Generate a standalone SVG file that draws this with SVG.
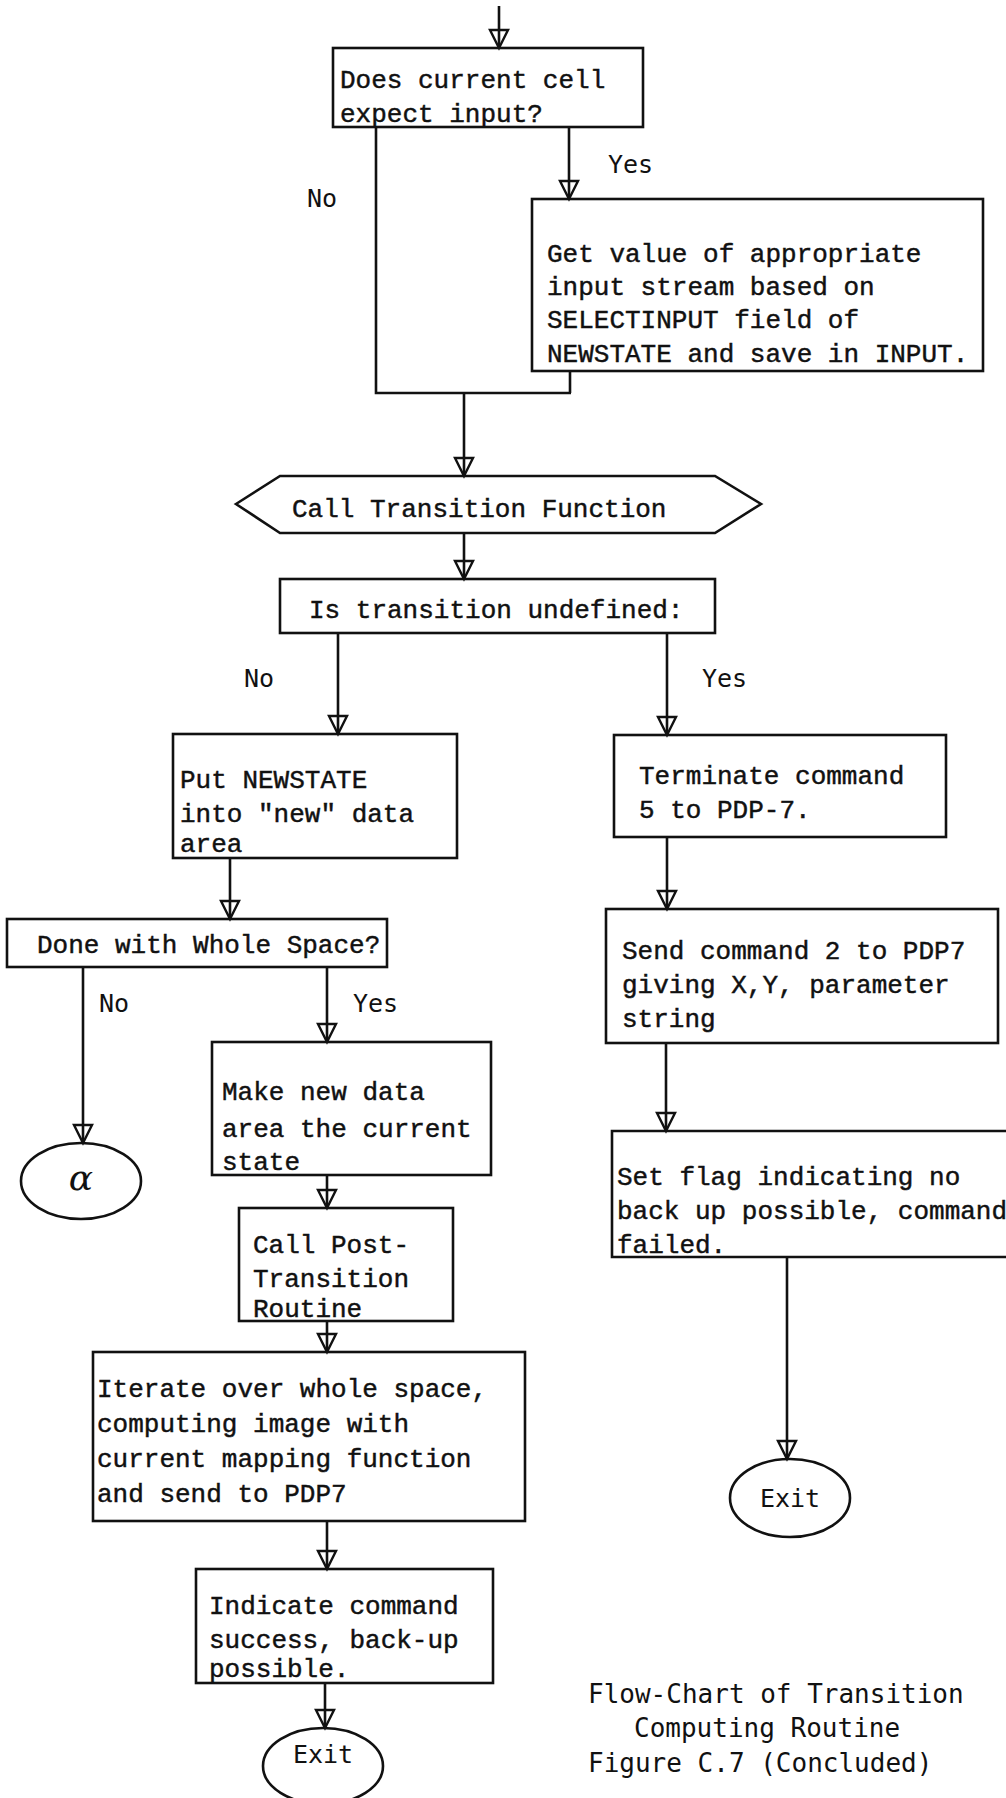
<svg xmlns="http://www.w3.org/2000/svg" width="1006" height="1798" viewBox="0 0 1006 1798">
  <style>
    .bg { fill: #ffffff; }
    .box { fill: none; stroke: #111; stroke-width: 2.6; }
    .wire { fill: none; stroke: #111; stroke-width: 2.6; }
    .t { font-family: "Liberation Mono", "DejaVu Sans Mono", monospace; font-size: 26px; fill: #111; stroke: #111; stroke-width: 0.45; }
    .lbl { font-family: "DejaVu Sans Mono", "Liberation Mono", monospace; font-size: 25px; fill: #111; }
    .cap { font-family: "DejaVu Sans Mono", "Liberation Mono", monospace; font-size: 26px; fill: #111; }
  </style>
  <defs>
    <!-- open triangular arrowhead; the stem stays visible through it -->
    <marker id="arr" markerUnits="userSpaceOnUse" markerWidth="26" markerHeight="26" viewBox="-22 -12 26 24" refX="0" refY="0" orient="auto">
      <path d="M -18,-9 L -18,9 L 0,0 Z" fill="none" stroke="#111" stroke-width="2.4" stroke-linejoin="miter"/>
    </marker>
  </defs>
  <rect class="bg" x="0" y="0" width="1006" height="1798"/>

  <!-- connectors -->
  <g id="connectors">
    <line class="wire" x1="499" y1="6" x2="499" y2="48" marker-end="url(#arr)"/>
    <path class="wire" d="M376,127 V393 H571"/>
    <line class="wire" x1="569" y1="127" x2="569" y2="199" marker-end="url(#arr)"/>
    <line class="wire" x1="570" y1="371" x2="570" y2="393"/>
    <line class="wire" x1="464" y1="393" x2="464" y2="476" marker-end="url(#arr)"/>
    <line class="wire" x1="464" y1="533" x2="464" y2="579" marker-end="url(#arr)"/>
    <line class="wire" x1="338" y1="633" x2="338" y2="734" marker-end="url(#arr)"/>
    <line class="wire" x1="667" y1="633" x2="667" y2="735" marker-end="url(#arr)"/>
    <line class="wire" x1="230" y1="858" x2="230" y2="919" marker-end="url(#arr)"/>
    <line class="wire" x1="83" y1="967" x2="83" y2="1143" marker-end="url(#arr)"/>
    <line class="wire" x1="327" y1="967" x2="327" y2="1042" marker-end="url(#arr)"/>
    <line class="wire" x1="327" y1="1175" x2="327" y2="1208" marker-end="url(#arr)"/>
    <line class="wire" x1="327" y1="1321" x2="327" y2="1352" marker-end="url(#arr)"/>
    <line class="wire" x1="327" y1="1521" x2="327" y2="1569" marker-end="url(#arr)"/>
    <line class="wire" x1="325" y1="1683" x2="325" y2="1728" marker-end="url(#arr)"/>
    <line class="wire" x1="667" y1="837" x2="667" y2="909" marker-end="url(#arr)"/>
    <line class="wire" x1="666" y1="1043" x2="666" y2="1131" marker-end="url(#arr)"/>
    <line class="wire" x1="787" y1="1257" x2="787" y2="1459" marker-end="url(#arr)"/>
    <text class="lbl" x="608" y="173">Yes</text>
    <text class="lbl" x="307" y="207">No</text>
    <text class="lbl" x="244" y="687">No</text>
    <text class="lbl" x="702" y="687">Yes</text>
    <text class="lbl" x="99" y="1012">No</text>
    <text class="lbl" x="353" y="1012">Yes</text>
  </g>

  <g id="expect-input">
    <rect class="box" x="333" y="48" width="310" height="79"/>
    <text class="t" x="340" y="88">Does current cell</text>
    <text class="t" x="340" y="122">expect input?</text>
  </g>

  <g id="get-input">
    <rect class="box" x="532" y="199" width="451" height="172"/>
    <text class="t" x="547" y="262">Get value of appropriate</text>
    <text class="t" x="547" y="295">input stream based on</text>
    <text class="t" x="547" y="328">SELECTINPUT field of</text>
    <text class="t" x="547" y="362">NEWSTATE and save in INPUT.</text>
  </g>

  <g id="call-transition">
    <polygon class="box" points="236,504 280,476 715,476 761,504 715,533 280,533"/>
    <text class="t" x="292" y="517">Call Transition Function</text>
  </g>

  <g id="undefined-test">
    <rect class="box" x="280" y="579" width="435" height="54"/>
    <text class="t" x="309" y="618">Is transition undefined:</text>
  </g>

  <g id="put-newstate">
    <rect class="box" x="173" y="734" width="284" height="124"/>
    <text class="t" x="180" y="788">Put NEWSTATE</text>
    <text class="t" x="180" y="822">into "new" data</text>
    <text class="t" x="180" y="852">area</text>
  </g>

  <g id="done-test">
    <rect class="box" x="7" y="919" width="380" height="48"/>
    <text class="t" x="37" y="953">Done with Whole Space?</text>
  </g>

  <g id="alpha">
    <ellipse class="box" cx="81" cy="1181" rx="60" ry="38"/>
    <text x="81" y="1190" text-anchor="middle" font-family="DejaVu Serif, serif" font-style="italic" font-size="36" fill="#111">α</text>
  </g>

  <g id="make-current">
    <rect class="box" x="212" y="1042" width="279" height="133"/>
    <text class="t" x="222" y="1100">Make new data</text>
    <text class="t" x="222" y="1137">area the current</text>
    <text class="t" x="222" y="1170">state</text>
  </g>

  <g id="post-transition">
    <rect class="box" x="239" y="1208" width="214" height="113"/>
    <text class="t" x="253" y="1253">Call Post-</text>
    <text class="t" x="253" y="1287">Transition</text>
    <text class="t" x="253" y="1317">Routine</text>
  </g>

  <g id="iterate">
    <rect class="box" x="93" y="1352" width="432" height="169"/>
    <text class="t" x="97" y="1397">Iterate over whole space,</text>
    <text class="t" x="97" y="1432">computing image with</text>
    <text class="t" x="97" y="1467">current mapping function</text>
    <text class="t" x="97" y="1502">and send to PDP7</text>
  </g>

  <g id="indicate-success">
    <rect class="box" x="196" y="1569" width="297" height="114"/>
    <text class="t" x="209" y="1614">Indicate command</text>
    <text class="t" x="209" y="1648">success, back-up</text>
    <text class="t" x="209" y="1677">possible.</text>
  </g>

  <g id="exit-left">
    <ellipse class="box" cx="323" cy="1766" rx="60" ry="38"/>
    <text class="lbl" x="323" y="1763" text-anchor="middle">Exit</text>
  </g>

  <g id="terminate">
    <rect class="box" x="614" y="735" width="332" height="102"/>
    <text class="t" x="639" y="784">Terminate command</text>
    <text class="t" x="639" y="818">5 to PDP-7.</text>
  </g>

  <g id="send-command">
    <rect class="box" x="606" y="909" width="392" height="134"/>
    <text class="t" x="622" y="959">Send command 2 to PDP7</text>
    <text class="t" x="622" y="993">giving X,Y, parameter</text>
    <text class="t" x="622" y="1027">string</text>
  </g>

  <g id="set-flag">
    <path class="box" d="M1008,1131 H612 V1257 H1008"/>
    <text class="t" x="617" y="1185">Set flag indicating no</text>
    <text class="t" x="617" y="1219">back up possible, command</text>
    <text class="t" x="617" y="1253">failed.</text>
  </g>

  <g id="exit-right">
    <ellipse class="box" cx="790" cy="1498" rx="60" ry="39"/>
    <text class="lbl" x="790" y="1507" text-anchor="middle">Exit</text>
  </g>

  <g id="caption">
    <text class="cap" x="588" y="1703">Flow-Chart of Transition</text>
    <text class="cap" x="634" y="1737">Computing Routine</text>
    <text class="cap" x="588" y="1772">Figure C.7 (Concluded)</text>
  </g>
</svg>
